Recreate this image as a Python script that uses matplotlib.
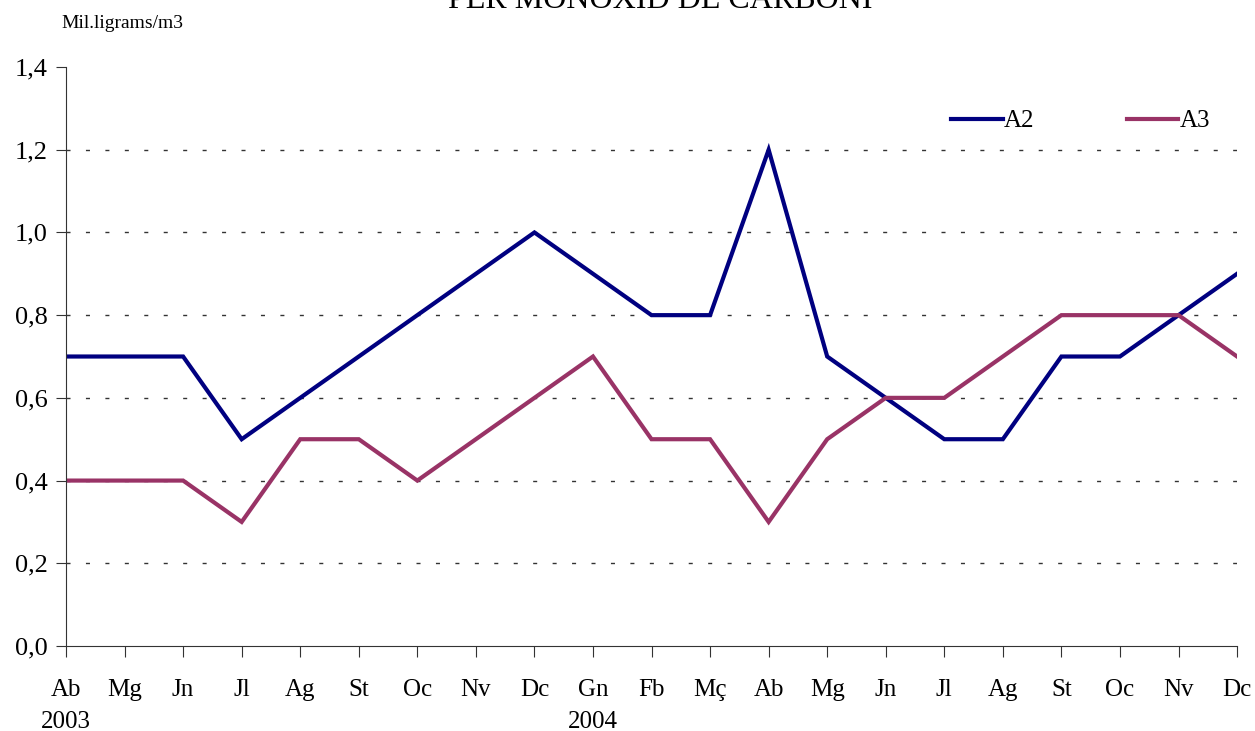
import matplotlib.pyplot as plt

plt.rcParams['font.family'] = ['Liberation Serif', 'DejaVu Serif']

months = ['Ab', 'Mg', 'Jn', 'Jl', 'Ag', 'St', 'Oc', 'Nv', 'Dc', 'Gn', 'Fb',
          'Mç', 'Ab', 'Mg', 'Jn', 'Jl', 'Ag', 'St', 'Oc', 'Nv', 'Dc']
years = {0: '2003', 9: '2004'}
a2 = [0.7, 0.7, 0.7, 0.5, 0.6, 0.7, 0.8, 0.9, 1.0, 0.9, 0.8,
      0.8, 1.2, 0.7, 0.6, 0.5, 0.5, 0.7, 0.7, 0.8, 0.9]
a3 = [0.4, 0.4, 0.4, 0.3, 0.5, 0.5, 0.4, 0.5, 0.6, 0.7, 0.5,
      0.5, 0.3, 0.5, 0.6, 0.6, 0.7, 0.8, 0.8, 0.8, 0.7]
yticks = [0.0, 0.2, 0.4, 0.6, 0.8, 1.0, 1.2, 1.4]

fig = plt.figure(figsize=(12.55, 7.31), dpi=100)
ax = fig.add_axes([0.0526, 0.1163, 0.9331, 0.792])

x = list(range(len(months)))
ax.plot(x, a2, color='#000080', lw=3, label='A2', solid_joinstyle='miter')
ax.plot(x, a3, color='#993366', lw=3, label='A3', solid_joinstyle='miter')

for v in yticks[1:-1]:
    ax.axhline(v, color='#333333', lw=1, ls=(0, (2.9, 11.1)), zorder=0)

ax.set_xlim(0, len(months) - 1)
ax.set_ylim(0, 1.4)
ax.set_yticks(yticks)
ax.set_yticklabels([f'{v:.1f}'.replace('.', ',') for v in yticks], fontsize=19)
ax.set_xticks(x)
ax.set_xticklabels([m + ('\n' + years[i] if i in years else '') for i, m in enumerate(months)],
                   fontsize=18, linespacing=1.55, va='top')
ax.tick_params(axis='x', direction='out', length=8, pad=16, color='#333333')
ax.tick_params(axis='y', direction='out', length=7, pad=6, color='#333333')
for s in ['left', 'bottom']:
    ax.spines[s].set_color('#333333')
ax.spines['top'].set_visible(False)
ax.spines['right'].set_visible(False)

ax.legend(loc='upper right', bbox_to_anchor=(0.996, 0.965), ncol=2, frameon=False,
          fontsize=18, handlelength=2.05, handletextpad=0.05, columnspacing=3.7)

fig.text(0.526, 1.0, 'PER MONÒXID DE CARBONI', ha='center', va='center', fontsize=23)
fig.text(0.049, 0.968, 'Mil.ligrams/m3', ha='left', va='center', fontsize=14)

fig.savefig('out.png', dpi=100)
